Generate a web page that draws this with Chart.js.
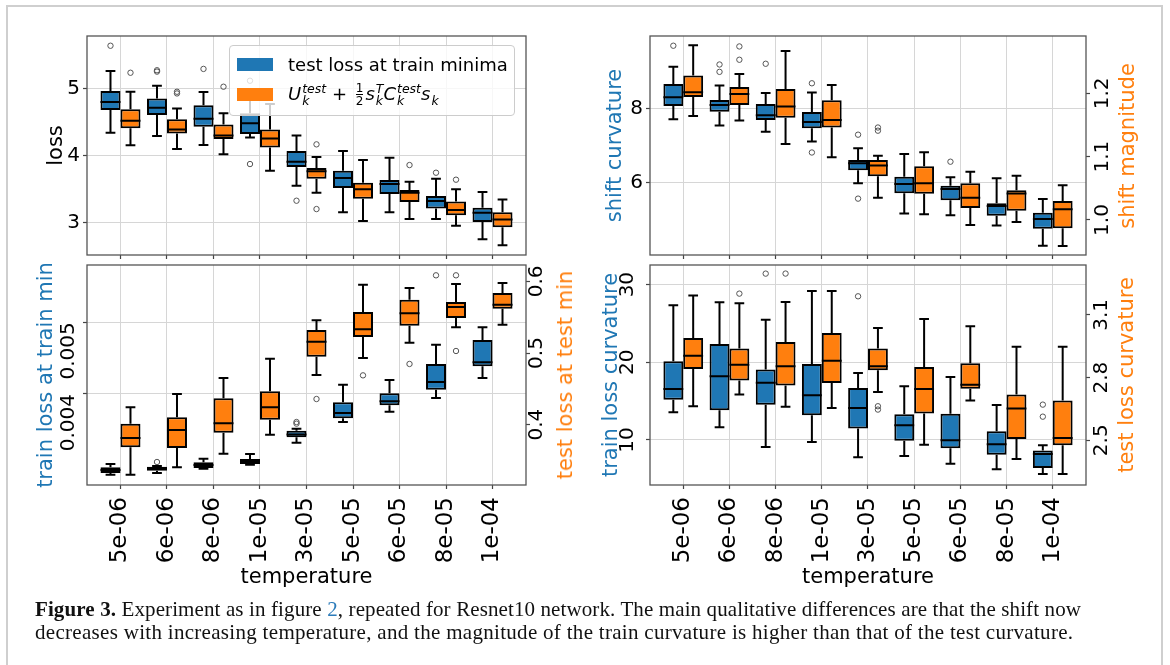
<!DOCTYPE html>
<html>
<head>
<meta charset="utf-8">
<script src="https://cdn.jsdelivr.net/npm/chart.js@4.4.0/dist/chart.umd.min.js"></script>
<style>
  body { margin: 0; background: #fff; width: 1170px; height: 665px; overflow: hidden; position: relative; font-family: 'DejaVu Sans'; }
  #frame { position: absolute; left: 6px; top: 5px; width: 1153px; height: 700px; border: 2px solid #cfcfcf; }
  canvas { position: absolute; }
  .rtitle { position: absolute; font-size: 21px; color: #ff7f0e; white-space: nowrap; transform: translate(-50%, -50%) rotate(-90deg); }
  #legend { position: absolute; left: 229px; top: 45px; width: 284px; height: 69px; border: 1px solid #cccccc; border-radius: 4px; background: rgba(255,255,255,0.8); font-size: 18px; }
  #legend .row { position: absolute; left: 7px; display: flex; align-items: center; white-space: nowrap; }
  #legend .patch { display: inline-block; width: 36px; height: 13px; margin-right: 15px; }
  .mi { font-style: italic; }
  .ss { display: inline-flex; flex-direction: column; font-size: 12.5px; line-height: 12px; font-style: italic; vertical-align: middle; margin-left: 1px; }
  .frac { display: inline-flex; flex-direction: column; font-size: 12px; line-height: 12px; text-align: center; vertical-align: middle; margin: 0 2px 0 3px; }
  .frac .den { border-top: 1px solid #000; }
  #caption { position: absolute; left: 35px; top: 598px; width: 1046px; font-family: 'Liberation Serif'; font-size: 21px; line-height: 23px; color: #111; }
  #caption .l1 { text-align: justify; text-align-last: justify; white-space: nowrap; letter-spacing: 0.1px; }
  #caption .l2 { white-space: nowrap; letter-spacing: 0.3px; }
  #caption .ref { color: #2b7bba; }
</style>
</head>
<body>
<div id="frame"></div>
<canvas id="lossChart" width="585" height="262" style="left:0;top:0"></canvas>
<canvas id="shiftChart" width="585" height="262" style="left:585px;top:0"></canvas>
<canvas id="minChart" width="585" height="340" style="left:0;top:258px"></canvas>
<canvas id="curvChart" width="585" height="340" style="left:585px;top:258px"></canvas>

<div id="legend">
  <div class="row" style="top:8px"><span class="patch" style="background:#1f77b4"></span>test loss at train minima</div>
  <div class="row" style="top:36px"><span class="patch" style="background:#ff7f0e"></span>
    <span><span class="mi">U</span><span class="ss"><span>test</span><span>k</span></span> + <span class="frac"><span>1</span><span class="den">2</span></span><span class="mi">s</span><span class="ss"><span>T</span><span>k</span></span><span class="mi">C</span><span class="ss"><span>test</span><span>k</span></span><span class="mi">s</span><span class="ss"><span>&nbsp;</span><span>k</span></span></span>
  </div>
</div>

<div class="rtitle" style="left:1127px;top:146px">shift magnitude</div>
<div class="rtitle" style="left:565px;top:375px">test loss at test min</div>
<div class="rtitle" style="left:1126px;top:375px">test loss curvature</div>

<div id="caption">
  <div class="l1"><b>Figure 3.</b> Experiment as in figure <span class="ref">2</span>, repeated for Resnet10 network. The main qualitative differences are that the shift now</div>
  <div class="l2">decreases with increasing temperature, and the magnitude of the train curvature is higher than that of the test curvature.</div>
</div>

<script>
// categories
const temperatures = ['5e-06', '6e-06', '8e-06', '1e-05', '3e-05', '5e-05', '6e-05', '8e-05', '1e-04'];

// each row: [whisker low, q1, median, q3, whisker high]
// outliers: [category index, value]

// loss panel (top left)
const lossBlue = [
  [4.34, 4.678, 4.797, 4.96, 5.258],
  [4.29, 4.603, 4.712, 4.85, 5.04],
  [4.157, 4.43, 4.55, 4.75, 4.945],
  [4.27, 4.32, 4.48, 4.63, 4.9],
  [3.552, 3.83, 3.909, 4.067, 4.30],
  [3.155, 3.517, 3.666, 3.775, 4.067],
  [3.155, 3.428, 3.576, 3.636, 3.968],
  [3.056, 3.214, 3.323, 3.398, 3.656],
  [2.753, 3.011, 3.15, 3.224, 3.457]
];
const lossBlueOut = [[0, 5.635], [1, 5.27], [1, 5.25], [2, 5.29], [3, 5.114], [3, 3.874], [4, 3.328], [7, 3.745]];
const lossOrange = [
  [4.152, 4.405, 4.52, 4.688, 4.95],
  [4.097, 4.33, 4.39, 4.54, 4.70],
  [4.018, 4.246, 4.30, 4.464, 4.63],
  [3.775, 4.12, 4.256, 4.39, 4.767],
  [3.447, 3.656, 3.765, 3.814, 3.978],
  [3.026, 3.358, 3.497, 3.596, 3.933],
  [3.056, 3.308, 3.447, 3.487, 3.611],
  [2.956, 3.11, 3.19, 3.318, 3.497],
  [2.664, 2.932, 3.05, 3.155, 3.348]
];
const lossOrangeOut = [[0, 5.233], [1, 4.95], [1, 4.925], [2, 5.025], [4, 4.167], [4, 3.204], [6, 3.859], [7, 3.641]];
const lossTicks = [3, 4, 5];

// shift panel (top right)
const shiftBlue = [
  [7.71, 8.07, 8.31, 8.67, 9.14],
  [7.54, 7.92, 8.10, 8.235, 8.63],
  [7.376, 7.69, 7.82, 8.127, 8.425],
  [7.11, 7.466, 7.64, 7.91, 8.44],
  [5.973, 6.326, 6.516, 6.606, 6.923],
  [5.15, 5.70, 5.955, 6.154, 6.769],
  [5.104, 5.511, 5.819, 5.91, 6.136],
  [4.824, 5.095, 5.357, 5.43, 6.109],
  [4.28, 4.742, 5.005, 5.176, 5.548]
];
const shiftBlueOut = [[0, 9.71], [1, 9.20], [1, 9.00], [2, 9.22], [3, 8.69], [3, 6.81], [4, 7.294], [4, 5.557], [6, 6.56]];
const shiftOrange = [
  [1.164, 1.194, 1.2016, 1.228, 1.276],
  [1.157, 1.1816, 1.199, 1.21, 1.2305],
  [1.12, 1.1616, 1.179, 1.207, 1.267],
  [1.099, 1.146, 1.158, 1.189, 1.213],
  [1.035, 1.069, 1.086, 1.0947, 1.1016],
  [1.009, 1.0416, 1.058, 1.085, 1.107],
  [0.992, 1.019, 1.035, 1.058, 1.076],
  [0.997, 1.0147, 1.042, 1.047, 1.07],
  [0.959, 0.987, 1.0168, 1.03, 1.055]
];
const shiftOrangeOut = [[1, 1.274], [1, 1.253], [4, 1.146], [4, 1.141]];
const shiftCurvTicks = [6, 8];
const shiftMagTicks = [1.0, 1.1, 1.2];

// minima panel (bottom left)
const minBlue = [
  [0.002874, 0.002898, 0.00294, 0.002977, 0.003023],
  [0.002898, 0.00293, 0.002958, 0.002986, 0.002995],
  [0.002958, 0.002967, 0.003009, 0.003047, 0.003098],
  [0.003014, 0.003023, 0.003051, 0.003093, 0.003163],
  [0.003321, 0.003395, 0.003433, 0.003488, 0.003516],
  [0.003609, 0.00366, 0.003735, 0.003884, 0.00413],
  [0.003753, 0.003842, 0.003898, 0.004009, 0.004195],
  [0.003944, 0.00406, 0.004167, 0.004419, 0.004688],
  [0.004223, 0.004386, 0.004442, 0.004753, 0.00493]
];
const minBlueOut = [[1, 0.003051], [4, 0.003609], [4, 0.003586], [7, 0.005656]];
const minOrange = [
  [0.3302, 0.3684, 0.3814, 0.4014, 0.4242],
  [0.3405, 0.3674, 0.3926, 0.4102, 0.4428],
  [0.3595, 0.3888, 0.4019, 0.4367, 0.4651],
  [0.386, 0.407, 0.4242, 0.4465, 0.4921],
  [0.4693, 0.4949, 0.5158, 0.5321, 0.5456],
  [0.493, 0.5223, 0.533, 0.5572, 0.5953],
  [0.5144, 0.5381, 0.5553, 0.5744, 0.5907],
  [0.5358, 0.5488, 0.5642, 0.5712, 0.5963],
  [0.5395, 0.5619, 0.5674, 0.5837, 0.5977]
];
const minOrangeOut = [[4, 0.4358], [5, 0.4688], [6, 0.4847], [7, 0.6084], [7, 0.5028]];
const minTrainTicks = [0.004, 0.005];
const minTestTicks = [0.4, 0.5, 0.6];

// curvature panel (bottom right)
const curvBlue = [
  [13.56, 15.19, 16.57, 20.13, 27.34],
  [11.63, 13.82, 18.2, 22.36, 27.73],
  [9.10, 14.55, 17.38, 19.06, 25.49],
  [9.74, 13.18, 15.75, 19.79, 29.18],
  [7.77, 11.46, 14.12, 16.7, 18.63],
  [7.94, 9.91, 11.89, 13.3, 16.91],
  [6.95, 8.93, 9.96, 13.39, 18.11],
  [6.22, 8.11, 9.44, 11.12, 14.51],
  [5.62, 6.39, 8.2, 8.63, 9.31]
];
const curvBlueOut = [[2, 31.42], [4, 28.5], [8, 14.55], [8, 13.0]];
const curvOrange = [
  [2.663, 2.841, 2.905, 2.99, 3.1925],
  [2.7186, 2.786, 2.862, 2.939, 3.156],
  [2.66, 2.762, 2.854, 2.971, 3.162],
  [2.655, 2.774, 2.881, 3.014, 3.215],
  [2.731, 2.835, 2.854, 2.939, 3.0377],
  [2.479, 2.628, 2.746, 2.851, 3.081],
  [2.691, 2.747, 2.766, 2.869, 3.046],
  [2.411, 2.506, 2.652, 2.719, 2.948],
  [2.339, 2.476, 2.511, 2.691, 2.948]
];
const curvOrangeOut = [[1, 3.202], [2, 3.298], [4, 2.663], [4, 2.647]];
const curvTrainTicks = [10, 20, 30];
const curvTestTicks = [2.5, 2.8, 3.1];

const BLUE = '#1f77b4';
const ORANGE = '#ff7f0e';
const FONT = 'DejaVu Sans';
const GRID = '#d6d6d6';
const TICK = '#444';
const BOX = 0.43;   // box width in category units
const CAP = 0.105;  // half width of whisker caps

function i2x(i, side) { return i + side * BOX / 2; }

// one box series -> floating bars + whisker/median lines + outlier points
function boxSeries(rows, outliers, side, axis, color) {
  const seg = [];
  rows.forEach((r, i) => {
    const c = i2x(i, side);
    const [lo, q1, med, q3, hi] = r;
    seg.push({x: c, y: q3}, {x: c, y: hi}, {x: c, y: null});
    seg.push({x: c - CAP, y: hi}, {x: c + CAP, y: hi}, {x: c, y: null});
    seg.push({x: c, y: lo}, {x: c, y: q1}, {x: c, y: null});
    seg.push({x: c - CAP, y: lo}, {x: c + CAP, y: lo}, {x: c, y: null});
    seg.push({x: c - BOX / 2, y: med}, {x: c + BOX / 2, y: med}, {x: c, y: null});
  });
  return [
    {
      type: 'bar', yAxisID: axis, order: 3,
      data: rows.map((r, i) => ({x: i, y: [r[1], r[3]]})),
      backgroundColor: color, borderColor: '#000', borderWidth: 2, borderSkipped: false,
      categoryPercentage: BOX * 2, barPercentage: 1
    },
    {
      type: 'line', yAxisID: axis, order: 2,
      data: seg, borderColor: '#000', borderWidth: 2, pointRadius: 0, spanGaps: false, tension: 0
    },
    {
      type: 'scatter', yAxisID: axis, order: 1,
      data: outliers.map(o => ({x: i2x(o[0], side), y: o[1]})),
      pointRadius: 2.7, pointBorderWidth: 1, pointBorderColor: '#555', pointBackgroundColor: 'rgba(0,0,0,0)'
    }
  ];
}

function xScale(labels, height) {
  return {
    type: 'linear', min: -0.72, max: 8.72, offset: false,
    afterBuildTicks: s => { s.ticks = temperatures.map((_, i) => ({value: i})); },
    afterFit: s => { s.height = height; s.paddingLeft = 0; s.paddingRight = 0; },
    grid: {offset: false, color: GRID, lineWidth: 1, tickLength: 4, tickColor: TICK, tickWidth: 1.2},
    border: {display: false},
    ticks: {
      display: labels, autoSkip: false, minRotation: 90, maxRotation: 90, padding: 8,
      color: '#000', font: {family: FONT, size: 23},
      callback: (v, i) => temperatures[i]
    },
    title: {display: labels, text: 'temperature', color: '#000', font: {family: FONT, size: 21}, padding: {top: 0, bottom: 8}}
  };
}

function yScale(o) {
  return {
    type: 'linear', position: o.pos, min: o.min, max: o.max,
    afterBuildTicks: s => { s.ticks = o.ticks.map(v => ({value: v})); },
    afterFit: s => { s.width = o.width; s.paddingTop = 0; s.paddingBottom = 0; },
    grid: {drawOnChartArea: o.grid, color: GRID, lineWidth: 1, tickLength: 4, tickColor: TICK, tickWidth: 1.2},
    border: {display: false},
    ticks: {
      color: '#000', font: {family: FONT, size: 20}, padding: o.pad,
      minRotation: o.rot, maxRotation: o.rot, crossAlign: o.cross || 'near',
      callback: v => o.fmt(v)
    },
    title: {display: !!o.title, text: o.title, color: o.tcolor, font: {family: FONT, size: 21}, padding: {top: o.tpad || 0, bottom: 0}}
  };
}

const framePlugin = {
  id: 'frame',
  afterDatasetsDraw(chart) {
    const {ctx, chartArea: a} = chart;
    ctx.save();
    ctx.strokeStyle = '#555';
    ctx.lineWidth = 1.3;
    ctx.strokeRect(a.left, a.top, a.right - a.left, a.bottom - a.top);
    ctx.restore();
  }
};

function makeChart(id, datasets, scales, padding) {
  return new Chart(document.getElementById(id), {
    type: 'bar',
    data: {datasets: datasets},
    options: {
      responsive: false, animation: false, events: [],
      layout: {padding: padding},
      plugins: {legend: {display: false}, tooltip: {enabled: false}},
      scales: scales
    },
    plugins: [framePlugin]
  });
}

const asInt = v => String(v);
const oneDec = v => v.toFixed(1);
const threeDec = v => v.toFixed(3);

makeChart('lossChart',
  [...boxSeries(lossBlue, lossBlueOut, -1, 'y', BLUE), ...boxSeries(lossOrange, lossOrangeOut, 1, 'y', ORANGE)],
  {
    x: xScale(false, 7),
    y: yScale({pos: 'left', min: 2.52, max: 5.78, ticks: lossTicks, fmt: asInt, width: 87, grid: true, pad: 3, rot: 0,
               title: 'loss', tcolor: '#000', tpad: 44})
  },
  {top: 36, right: 59, left: 0, bottom: 0});

makeChart('shiftChart',
  [...boxSeries(shiftBlue, shiftBlueOut, -1, 'y', BLUE), ...boxSeries(shiftOrange, shiftOrangeOut, 1, 'y2', ORANGE)],
  {
    x: xScale(false, 7),
    y: yScale({pos: 'left', min: 4.026, max: 9.974, ticks: shiftCurvTicks, fmt: asInt, width: 65, grid: true, pad: 3, rot: 0,
               title: 'shift curvature', tcolor: BLUE, tpad: 18}),
    y2: yScale({pos: 'right', min: 0.9447, max: 1.2905, ticks: shiftMagTicks, fmt: oneDec, width: 84, grid: false, pad: -3, rot: 90, cross: 'center'})
  },
  {top: 36, right: 0, left: 0, bottom: 0});

makeChart('minChart',
  [...boxSeries(minBlue, minBlueOut, -1, 'y', BLUE), ...boxSeries(minOrange, minOrangeOut, 1, 'y2', ORANGE)],
  {
    x: xScale(true, 113),
    y: yScale({pos: 'left', min: 0.00273, max: 0.0058, ticks: minTrainTicks, fmt: threeDec, width: 87, grid: true, pad: 14, rot: 90,
               title: 'train loss at train min', tcolor: BLUE, tpad: 34}),
    y2: yScale({pos: 'right', min: 0.3158, max: 0.6228, ticks: minTestTicks, fmt: oneDec, width: 59, grid: false, pad: -9, rot: 90, cross: 'center'})
  },
  {top: 7, right: 0, left: 0, bottom: 0});

makeChart('curvChart',
  [...boxSeries(curvBlue, curvBlueOut, -1, 'y', BLUE), ...boxSeries(curvOrange, curvOrangeOut, 1, 'y2', ORANGE)],
  {
    x: xScale(true, 113),
    y: yScale({pos: 'left', min: 4.2, max: 32.53, ticks: curvTrainTicks, fmt: asInt, width: 65, grid: true, pad: 5, rot: 90, cross: 'center',
               title: 'train loss curvature', tcolor: BLUE, tpad: 14}),
    y2: yScale({pos: 'right', min: 2.286, max: 3.339, ticks: curvTestTicks, fmt: oneDec, width: 84, grid: false, pad: -4, rot: 90, cross: 'center'})
  },
  {top: 7, right: 0, left: 0, bottom: 0});
</script>
</body>
</html>
